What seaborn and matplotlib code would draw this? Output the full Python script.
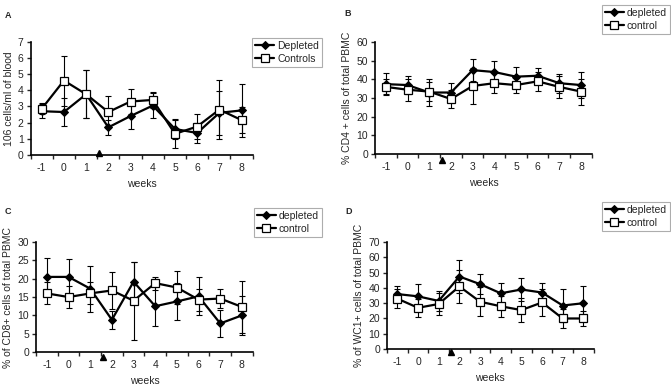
import matplotlib.pyplot as plt
import numpy as np
import pandas as pd
import seaborn as sns

weeks = ["-1", "0", "1", "2", "3", "4", "5", "6", "7", "8"]

# panel A: 10^6 cells/ml of blood
a_dep = [2.7, 2.65, 3.75, 1.7, 2.4, 3.05, 1.6, 1.35, 2.6, 2.75]
a_dep_err = [0.45, 0.85, 1.5, 0.45, 0.8, 0.75, 0.6, 0.65, 1.35, 1.65]
a_ctl = [2.85, 4.6, 3.75, 2.65, 3.3, 3.4, 1.3, 1.75, 2.8, 2.15]
a_ctl_err = [0.35, 1.55, 1.5, 1.0, 0.75, 0.5, 0.85, 0.75, 1.85, 0.8]

# panel B: % CD4+
b_dep = [37.5, 37, 33, 33, 45, 44, 41.5, 42, 38, 37]
b_dep_err = [6, 5, 7, 5, 6, 6, 5, 4, 5, 7]
b_ctl = [36, 34.5, 33.5, 29.5, 36.5, 38, 37, 39, 36, 33.5]
b_ctl_err = [4, 6, 5, 5, 9.5, 5.5, 4, 5, 6, 7]

# panel C: % CD8+
c_dep = [20.5, 20.5, 17.3, 8.8, 19.2, 12.5, 13.8, 15.2, 7.8, 10]
c_dep_err = [5.2, 4.8, 6.3, 2.4, 5.5, 5.5, 5, 5.2, 3.7, 5.3]
c_ctl = [16, 15, 16, 16.8, 14, 18.8, 17.6, 14.3, 14.6, 12.3]
c_ctl_err = [3, 3, 3, 5, 10.6, 1.8, 4.5, 3, 2.7, 7]

# panel D: % WC1+
d_dep = [36, 34.5, 31.5, 47.5, 42.5, 36.5, 39, 37, 28.5, 30]
d_dep_err = [5.5, 8, 6.5, 11, 6.5, 7, 7.5, 6.5, 11, 11]
d_ctl = [33, 27, 29.5, 41, 31, 28, 25.5, 30.5, 20, 20]
d_ctl_err = [6, 6, 7, 11, 9.5, 7, 8, 9, 6, 5]

sns.set_style("ticks")
plt.rcParams["font.family"] = ["Liberation Sans", "DejaVu Sans"]

fig = plt.figure(figsize=(6.71, 3.87), dpi=100)

panels = [
    dict(tag="A", rect=[0.0456, 0.600, 0.331, 0.292], dep=a_dep, dep_err=a_dep_err,
         ctl=a_ctl, ctl_err=a_ctl_err, ymax=7, step=1,
         ylabel="106 cells/ml of blood", names=("Depleted", "Controls"),
         arrow_y=0.1, tag_xy=(5, 15), leg=(322, 38)),
    dict(tag="B", rect=[0.559, 0.602, 0.323, 0.289], dep=b_dep, dep_err=b_dep_err,
         ctl=b_ctl, ctl_err=b_ctl_err, ymax=60, step=10,
         ylabel="% CD4 + cells of total PBMC", names=("depleted", "control"),
         arrow_y=-3.2, tag_xy=(344, 13), leg=(670, 5)),
    dict(tag="C", rect=[0.0537, 0.0904, 0.323, 0.284], dep=c_dep, dep_err=c_dep_err,
         ctl=c_ctl, ctl_err=c_ctl_err, ymax=30, step=5,
         ylabel="% of CD8+ cells of total PBMC", names=("depleted", "control"),
         arrow_y=-1.3, tag_xy=(5, 212), leg=(322, 208)),
    dict(tag="D", rect=[0.5768, 0.0982, 0.308, 0.276], dep=d_dep, dep_err=d_dep_err,
         ctl=d_ctl, ctl_err=d_ctl_err, ymax=70, step=10,
         ylabel="% of WC1+ cells of total PBMC", names=("depleted", "control"),
         arrow_y=-2.0, tag_xy=(345, 212), leg=(670, 202)),
]

x = np.arange(len(weeks))

for p in panels:
    ax = fig.add_axes(p["rect"])
    dep_name, ctl_name = p["names"]
    df = pd.DataFrame({
        "x": np.concatenate([x, x]),
        "value": p["dep"] + p["ctl"],
        "group": [dep_name] * len(x) + [ctl_name] * len(x),
    })

    ax.errorbar(x, p["dep"], yerr=p["dep_err"], fmt="none", ecolor="black",
                elinewidth=0.8, capsize=2.5, capthick=0.8, zorder=2)
    ax.errorbar(x, p["ctl"], yerr=p["ctl_err"], fmt="none", ecolor="black",
                elinewidth=0.8, capsize=2.5, capthick=0.8, zorder=2)

    sns.lineplot(data=df[df.group == dep_name], x="x", y="value", ax=ax,
                 color="black", linewidth=1.6, marker="D", markersize=4.5,
                 markerfacecolor="black", markeredgecolor="black", zorder=4,
                 label=dep_name)
    sns.lineplot(data=df[df.group == ctl_name], x="x", y="value", ax=ax,
                 color="black", linewidth=1.6, marker="s", markersize=6,
                 markerfacecolor="white", markeredgecolor="black",
                 markeredgewidth=0.9, zorder=5, label=ctl_name)

    ax.set_xlim(-0.5, len(weeks) - 0.5)
    ax.set_ylim(0, p["ymax"])
    ax.set_yticks(np.arange(0, p["ymax"] + 0.1, p["step"]))
    ax.set_xticks(np.arange(-0.5, len(weeks), 1.0))
    ax.set_xticklabels([])
    ax.set_xticks(x, minor=True)
    ax.set_xticklabels(weeks, minor=True)
    ax.tick_params(axis="x", which="major", direction="out", length=3, width=1)
    ax.tick_params(axis="x", which="minor", length=0, labelsize=7.5, pad=6)
    ax.tick_params(axis="y", direction="out", length=3, width=1, labelsize=7.5, pad=2)
    for s in ["top", "right"]:
        ax.spines[s].set_visible(False)
    for s in ["left", "bottom"]:
        ax.spines[s].set_linewidth(1.2)
        ax.spines[s].set_color("black")
    ax.set_xlabel("weeks", fontsize=7.5, labelpad=4)
    ax.set_ylabel(p["ylabel"], fontsize=7.5, labelpad=3)

    # treatment arrow
    ax.plot([2.6], [p["arrow_y"]], marker="^", color="black", markersize=4.5,
            clip_on=False, zorder=6)

    fig.text(p["tag_xy"][0] / 671, 1 - p["tag_xy"][1] / 387, p["tag"],
             fontsize=6.5, fontweight="bold", va="center", ha="left")

    ax.get_legend().remove()
    handles, labels = ax.get_legend_handles_labels()
    lx, ly = p["leg"]
    leg = fig.legend(handles, labels, loc="upper right",
                     bbox_to_anchor=(lx / 671, 1 - ly / 387),
                     fontsize=7.5, frameon=True, fancybox=False,
                     handlelength=1.8, handletextpad=0.3, borderpad=0.3,
                     labelspacing=0.25, borderaxespad=0)
    leg.get_frame().set_edgecolor("#999999")
    leg.get_frame().set_linewidth(0.8)

fig.savefig("out.png", dpi=100)
